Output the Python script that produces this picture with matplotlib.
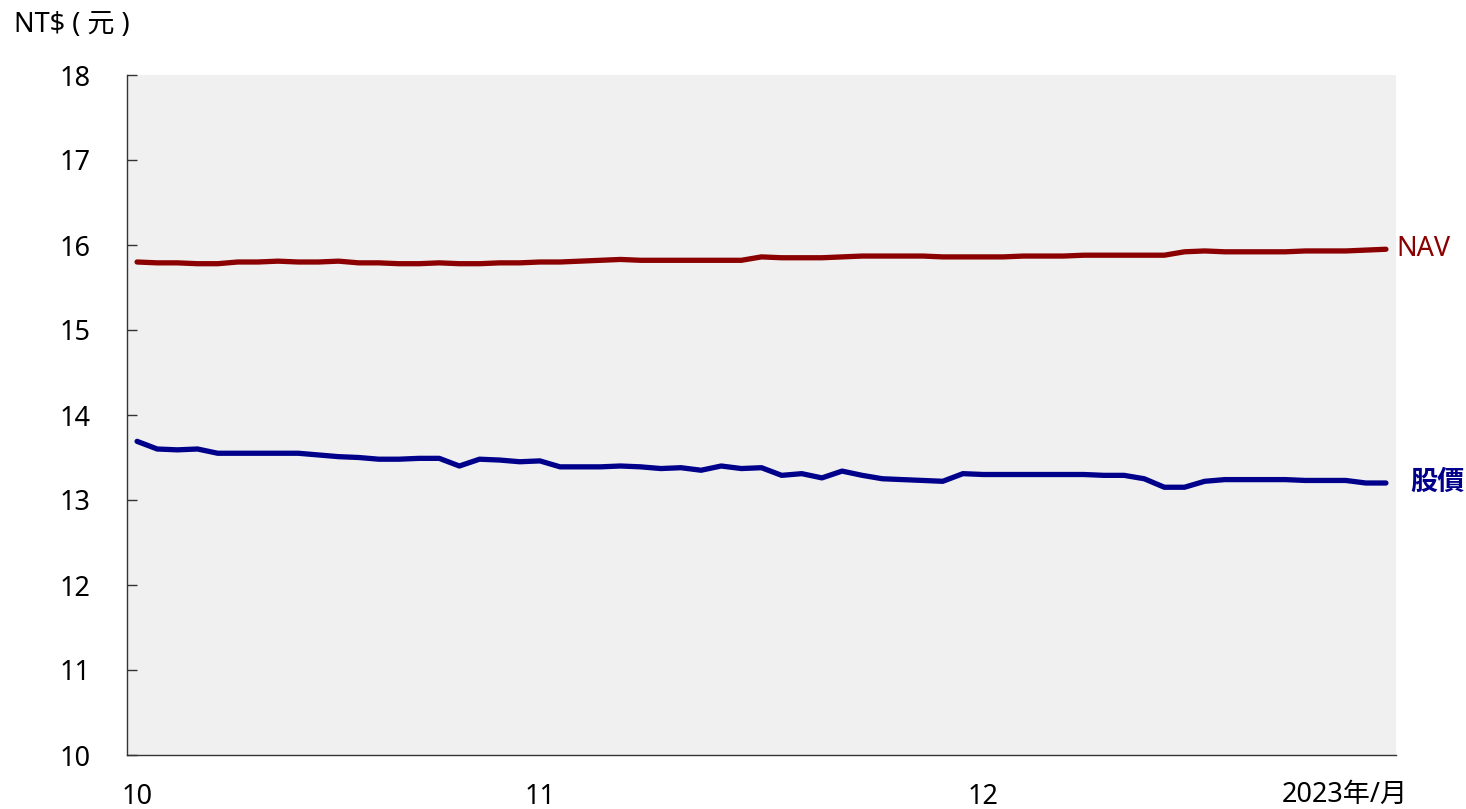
import matplotlib.pyplot as plt
import numpy as np

plt.rcParams['font.family'] = ['Noto Sans', 'Noto Sans CJK TC', 'DejaVu Sans']

# trading days, Oct 2 2023 -> Dec 29 2023 (index 0..62)
month_ticks = [0, 20, 42]
month_labels = ["10", "11", "12"]

nav = [15.80, 15.79, 15.79, 15.78, 15.78, 15.80, 15.80, 15.81, 15.80, 15.80,
       15.81, 15.79, 15.79, 15.78, 15.78, 15.79, 15.78, 15.78, 15.79, 15.79,
       15.80, 15.80, 15.81, 15.82, 15.83, 15.82, 15.82, 15.82, 15.82, 15.82,
       15.82, 15.86, 15.85, 15.85, 15.85, 15.86, 15.87, 15.87, 15.87, 15.87,
       15.86, 15.86, 15.86, 15.86, 15.87, 15.87, 15.87, 15.88, 15.88, 15.88,
       15.88, 15.88, 15.92, 15.93, 15.92, 15.92, 15.92, 15.92, 15.93, 15.93,
       15.93, 15.94, 15.95]

price = [13.69, 13.60, 13.59, 13.60, 13.55, 13.55, 13.55, 13.55, 13.55, 13.53,
         13.51, 13.50, 13.48, 13.48, 13.49, 13.49, 13.40, 13.48, 13.47, 13.45,
         13.46, 13.39, 13.39, 13.39, 13.40, 13.39, 13.37, 13.38, 13.35, 13.40,
         13.37, 13.38, 13.29, 13.31, 13.26, 13.34, 13.29, 13.25, 13.24, 13.23,
         13.22, 13.31, 13.30, 13.30, 13.30, 13.30, 13.30, 13.30, 13.29, 13.29,
         13.25, 13.15, 13.15, 13.22, 13.24, 13.24, 13.24, 13.24, 13.23, 13.23,
         13.23, 13.20, 13.20]

nav_color = '#8B0000'
price_color = '#00008B'
fs = 19.5

fig = plt.figure(figsize=(14.66, 8.09), dpi=100)
ax = fig.add_axes([127 / 1466, 54 / 809, 1269 / 1466, 680 / 809])
ax.set_facecolor('#f0f0f0')

x = np.arange(len(nav))
ax.plot(x, nav, color=nav_color, lw=3.8, solid_capstyle='round', solid_joinstyle='round')
ax.plot(x, price, color=price_color, lw=3.8, solid_capstyle='round', solid_joinstyle='round')

ax.set_ylim(10, 18)
ax.set_yticks(range(10, 19))
ax.set_xlim(-0.5, 62.5)
ax.set_xticks(month_ticks)
ax.set_xticklabels(month_labels)

for s in ['top', 'right']:
    ax.spines[s].set_visible(False)
for s in ['left', 'bottom']:
    ax.spines[s].set_color('#333333')
    ax.spines[s].set_linewidth(1.0)

ax.tick_params(axis='y', direction='in', length=7, width=1, color='#333333',
               labelsize=fs, pad=26)
ax.tick_params(axis='x', length=0, labelsize=fs, pad=20)

ax.text(62.5, nav[-1], "NAV", color=nav_color, fontsize=fs, va='center', ha='left')
ax.text(63.2, price[-1], "股價", color=price_color, fontsize=fs, fontweight='bold',
        va='center', ha='left')

fig.text(1345 / 1466, 14 / 809, "2023年/月", fontsize=fs, ha='center', va='center')
fig.text(14 / 1466, 1 - 25 / 809, "NT$ ( 元 )", fontsize=fs, ha='left', va='center')

fig.savefig('out.png', dpi=100)
